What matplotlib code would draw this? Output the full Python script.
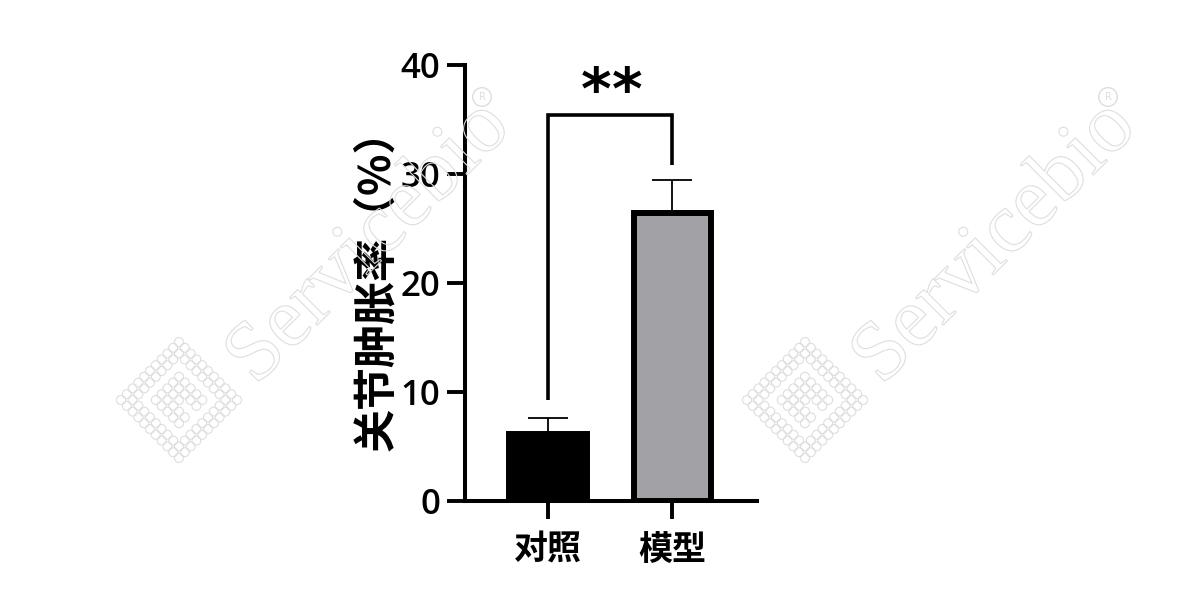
import numpy as np
import matplotlib
matplotlib.use('Agg')
import matplotlib.pyplot as plt
from matplotlib.font_manager import FontProperties
from matplotlib.patches import PathPatch
from matplotlib.textpath import TextPath
from matplotlib.transforms import Affine2D

plt.rcParams['font.family'] = ['Noto Sans CJK SC', 'DejaVu Sans']

groups = ['对照', '模型']
means = [6.15, 26.4]
errors = [1.45, 3.05]
bar_colors = ['#000000', '#a2a1a5']
y_ticks = [0, 10, 20, 30, 40]
bracket_top = 35.4
bracket_left_end = 9.3
bracket_right_end = 30.8

fig = plt.figure(figsize=(12, 6), dpi=100)
ax = fig.add_axes([465 / 1200, 1 - 501 / 600, (757 - 465) / 1200, (501 - 65) / 600])

x = np.arange(len(groups))
ax.bar(x, means, width=0.62, color=bar_colors, edgecolor='black', linewidth=4.3, zorder=3)
ax.errorbar(x, means, yerr=[[0, 0], errors], fmt='none', ecolor='black',
            elinewidth=1.3, capsize=14.5, capthick=1.3, zorder=2)

ax.set_xlim(-0.667, 1.68)
ax.set_ylim(0, 40)
ax.set_xticks(x)
ax.set_xticklabels(groups, fontsize=24.5, fontweight='bold')
ax.set_yticks(y_ticks)
ax.set_yticklabels([str(t) for t in y_ticks], fontsize=25, fontfamily='Open Sans', fontweight='semibold')
ax.tick_params(axis='both', length=13, width=2.8, pad=5)
ax.tick_params(axis='x', pad=9)
for s in ['top', 'right']:
    ax.spines[s].set_visible(False)
for s in ['left', 'bottom']:
    ax.spines[s].set_linewidth(2.9)
ax.spines['bottom'].set_zorder(4)

ax.plot([0, 0, 1, 1], [bracket_left_end, bracket_top, bracket_top, bracket_right_end],
        color='black', lw=2.6, solid_joinstyle='miter', solid_capstyle='butt', clip_on=False)
for star_x in [0.386, 0.635]:
    ax.text(star_x, 37.5, '*', ha='center', va='center', fontsize=42, fontweight='bold',
            fontfamily='DejaVu Sans', clip_on=False)

fig.text(376 / 1200, 1 - 280 / 600, '关节肿胀率（%）', rotation=90, ha='center', va='center',
         fontsize=31, fontweight='bold')

# faint watermark over the chart
wm = fig.add_axes([0, 0, 1, 1], zorder=10)
wm.set_xlim(0, 1200)
wm.set_ylim(600, 0)
wm.axis('off')
wm.patch.set_alpha(0)
wm_color = '#dedede'
wm_path = TextPath((0, 0), 'Servicebio', size=85, prop=FontProperties(family='Liberation Serif'))
bb = wm_path.get_extents()
for dx in [0, 626]:
    tr = (Affine2D().translate(-bb.width / 2, -bb.height / 2).rotate_deg(45).scale(1, -1)
          .translate(360 + dx, 240))
    wm.add_patch(PathPatch(wm_path, transform=tr + wm.transData, facecolor='none',
                           edgecolor=wm_color, lw=0.8))
    wm.scatter([482 + dx], [97], s=180, facecolor='none', edgecolor=wm_color, lw=1)
    wm.text(482 + dx, 97, 'R', fontsize=7, color=wm_color, ha='center', va='center', fontfamily='DejaVu Sans')
    # diamond logo made of little rings
    cu, cv = [], []
    for i in range(-5, 6):
        for j in range(-5, 6):
            ring = max(abs(i), abs(j))
            if ring >= 4 or (ring <= 2 and not (i > 0 and j == 0)):
                cu.append(i)
                cv.append(j)
    cu = np.array(cu) * 8.2
    cv = np.array(cv) * 8.2
    wm.scatter(179 + dx + (cu + cv) * 0.707, 400 + (cu - cv) * 0.707, s=42,
               facecolor='none', edgecolor=wm_color, lw=0.8)

fig.savefig('out.png', dpi=100)
